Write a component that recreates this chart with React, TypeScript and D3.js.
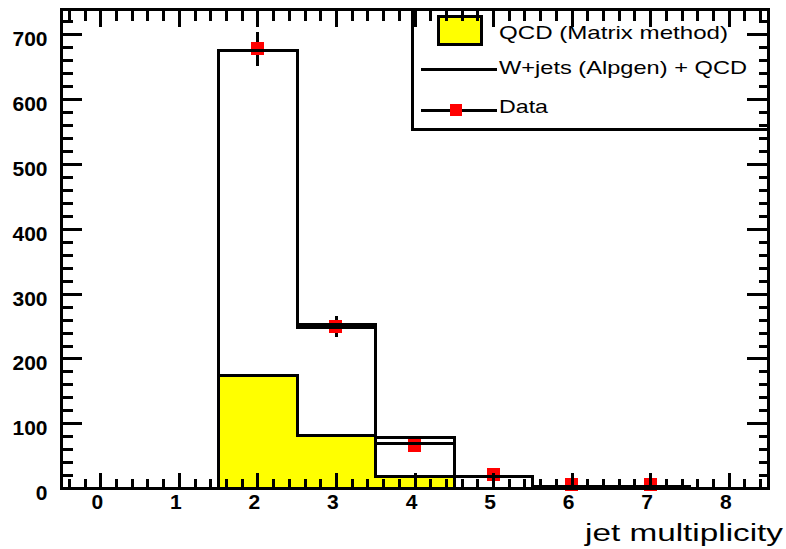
import React from "react";
import * as d3 from "d3";

// jet multiplicity bins
const bins = [2, 3, 4, 5, 6, 7];
const qcd = [174, 82, 19, 0, 0, 0];
const wjetsQcd = [676, 253, 79, 19, 4, 4];
const wjetsQcdB = [676, 248, 69, 19, 4, 4];
const dataBins = [2, 3, 4, 5, 6, 7];
const dataVals = [678, 250, 67, 22, 7, 7];
const yTicks = [0, 100, 200, 300, 400, 500, 600, 700];
const xTicks = [0, 1, 2, 3, 4, 5, 6, 7, 8];
const legendLabels = ["QCD (Matrix method)", "W+jets (Alpgen) + QCD", "Data"];

const W = 786, H = 549;
const x = d3.scaleLinear().domain([-0.5, 8.5]).range([61.5, 768.5]);
const y = d3.scaleLinear().domain([0, 738.5]).range([488.7, 9.7]);

function stepPoints(vals: number[]) {
  const pts: [number, number][] = [[x(bins[0] - 0.5), y(0)]];
  bins.forEach((b, i) => {
    pts.push([x(b - 0.5), y(vals[i])]);
    pts.push([x(b + 0.5), y(vals[i])]);
  });
  pts.push([x(bins[bins.length - 1] + 0.5), y(0)]);
  return pts;
}

const line = d3.line();

export default function App() {
  const minorY = d3.range(0, 739, 20);
  const minorX = d3.range(-4, 85, 2).map((d) => d / 10);
  const font = "'Liberation Sans', Arial, sans-serif";
  const legX = 412, legY = 9, legR = 768.5, legB = 129;
  return (
    <svg width={W} height={H} style={{ position: "absolute", left: 0, top: 0, background: "#fff" }}>
      <rect width={W} height={H} fill="#fff" />
      {/* QCD fill */}
      <path d={line(stepPoints(qcd)) || ""} fill="#ffff00" stroke="none" />
      {/* data */}
      {dataBins.map((b, i) => {
        const e = Math.sqrt(dataVals[i]);
        return (
          <g key={b}>
            <line x1={x(b)} x2={x(b)} y1={y(dataVals[i] + e)} y2={y(Math.max(0, dataVals[i] - e))} stroke="#000" strokeWidth={3} shapeRendering="crispEdges" />
            <rect x={x(b) - 7} y={y(dataVals[i]) - 6.5} width={13} height={13} fill="#ff0000" shapeRendering="crispEdges" />
          </g>
        );
      })}
      {/* histograms */}
      {[qcd, wjetsQcd, wjetsQcdB].map((v, i) => (
        <path key={i} d={line(stepPoints(v)) || ""} fill="none" stroke="#000" strokeWidth={3} shapeRendering="crispEdges" />
      ))}
      {/* legend */}
      <rect x={legX} y={legY} width={legR - legX} height={legB - legY} fill="#fff" stroke="#000" strokeWidth={3} shapeRendering="crispEdges" />
      <rect x={438} y={16} width={43} height={28} fill="#ffff00" stroke="#000" strokeWidth={3} shapeRendering="crispEdges" />
      <line x1={421} x2={497} y1={69.5} y2={69.5} stroke="#000" strokeWidth={3} shapeRendering="crispEdges" />
      <line x1={421} x2={497} y1={110.5} y2={110.5} stroke="#000" strokeWidth={3} shapeRendering="crispEdges" />
      <rect x={450} y={104} width={12} height={12} fill="#ff0000" shapeRendering="crispEdges" />
      {legendLabels.map((t, i) => (
        <text key={t} x={499} y={[38.5, 74, 113][i]} fontFamily={font} fontSize={19}
          textLength={[229, 248, 49][i]} lengthAdjust="spacingAndGlyphs" fill="#000">{t}</text>
      ))}
      {/* axes frame */}
      <rect x={x(-0.5)} y={y(738.5)} width={x(8.5) - x(-0.5)} height={y(0) - y(738.5)} fill="none" stroke="#000" strokeWidth={3} shapeRendering="crispEdges" />
      {minorY.map((v) => {
        const major = v % 100 === 0;
        return (
          <g key={"y" + v}>
            <line x1={x(-0.5)} x2={x(-0.5) + (major ? 20 : 11)} y1={y(v)} y2={y(v)} stroke="#000" strokeWidth={3} shapeRendering="crispEdges" />
            <line x1={x(8.5)} x2={x(8.5) - (major ? 22 : 10)} y1={y(v)} y2={y(v)} stroke="#000" strokeWidth={3} shapeRendering="crispEdges" />
          </g>
        );
      })}
      {minorX.map((v) => {
        const major = Math.abs(v - Math.round(v)) < 1e-6;
        return (
          <g key={"x" + v}>
            <line x1={x(v)} x2={x(v)} y1={y(0)} y2={y(0) - (major ? 16 : 10)} stroke="#000" strokeWidth={3} shapeRendering="crispEdges" />
            <line x1={x(v)} x2={x(v)} y1={y(738.5)} y2={y(738.5) + (major ? 17 : 11)} stroke="#000" strokeWidth={3} shapeRendering="crispEdges" />
          </g>
        );
      })}
      {yTicks.map((v) => (
        <text key={"yl" + v} x={47.5} y={y(v) + 11.5} textAnchor="end" fontFamily={font} fontWeight="bold" fontSize={21} fill="#000">{v}</text>
      ))}
      {xTicks.map((v) => (
        <text key={"xl" + v} x={x(v) - 3.5} y={509} textAnchor="middle" fontFamily={font} fontWeight="bold" fontSize={21} fill="#000">{v}</text>
      ))}
      <text x={585} y={541} fontFamily={font} fontSize={23} textLength={198} lengthAdjust="spacingAndGlyphs" fill="#000">jet multiplicity</text>
    </svg>
  );
}
